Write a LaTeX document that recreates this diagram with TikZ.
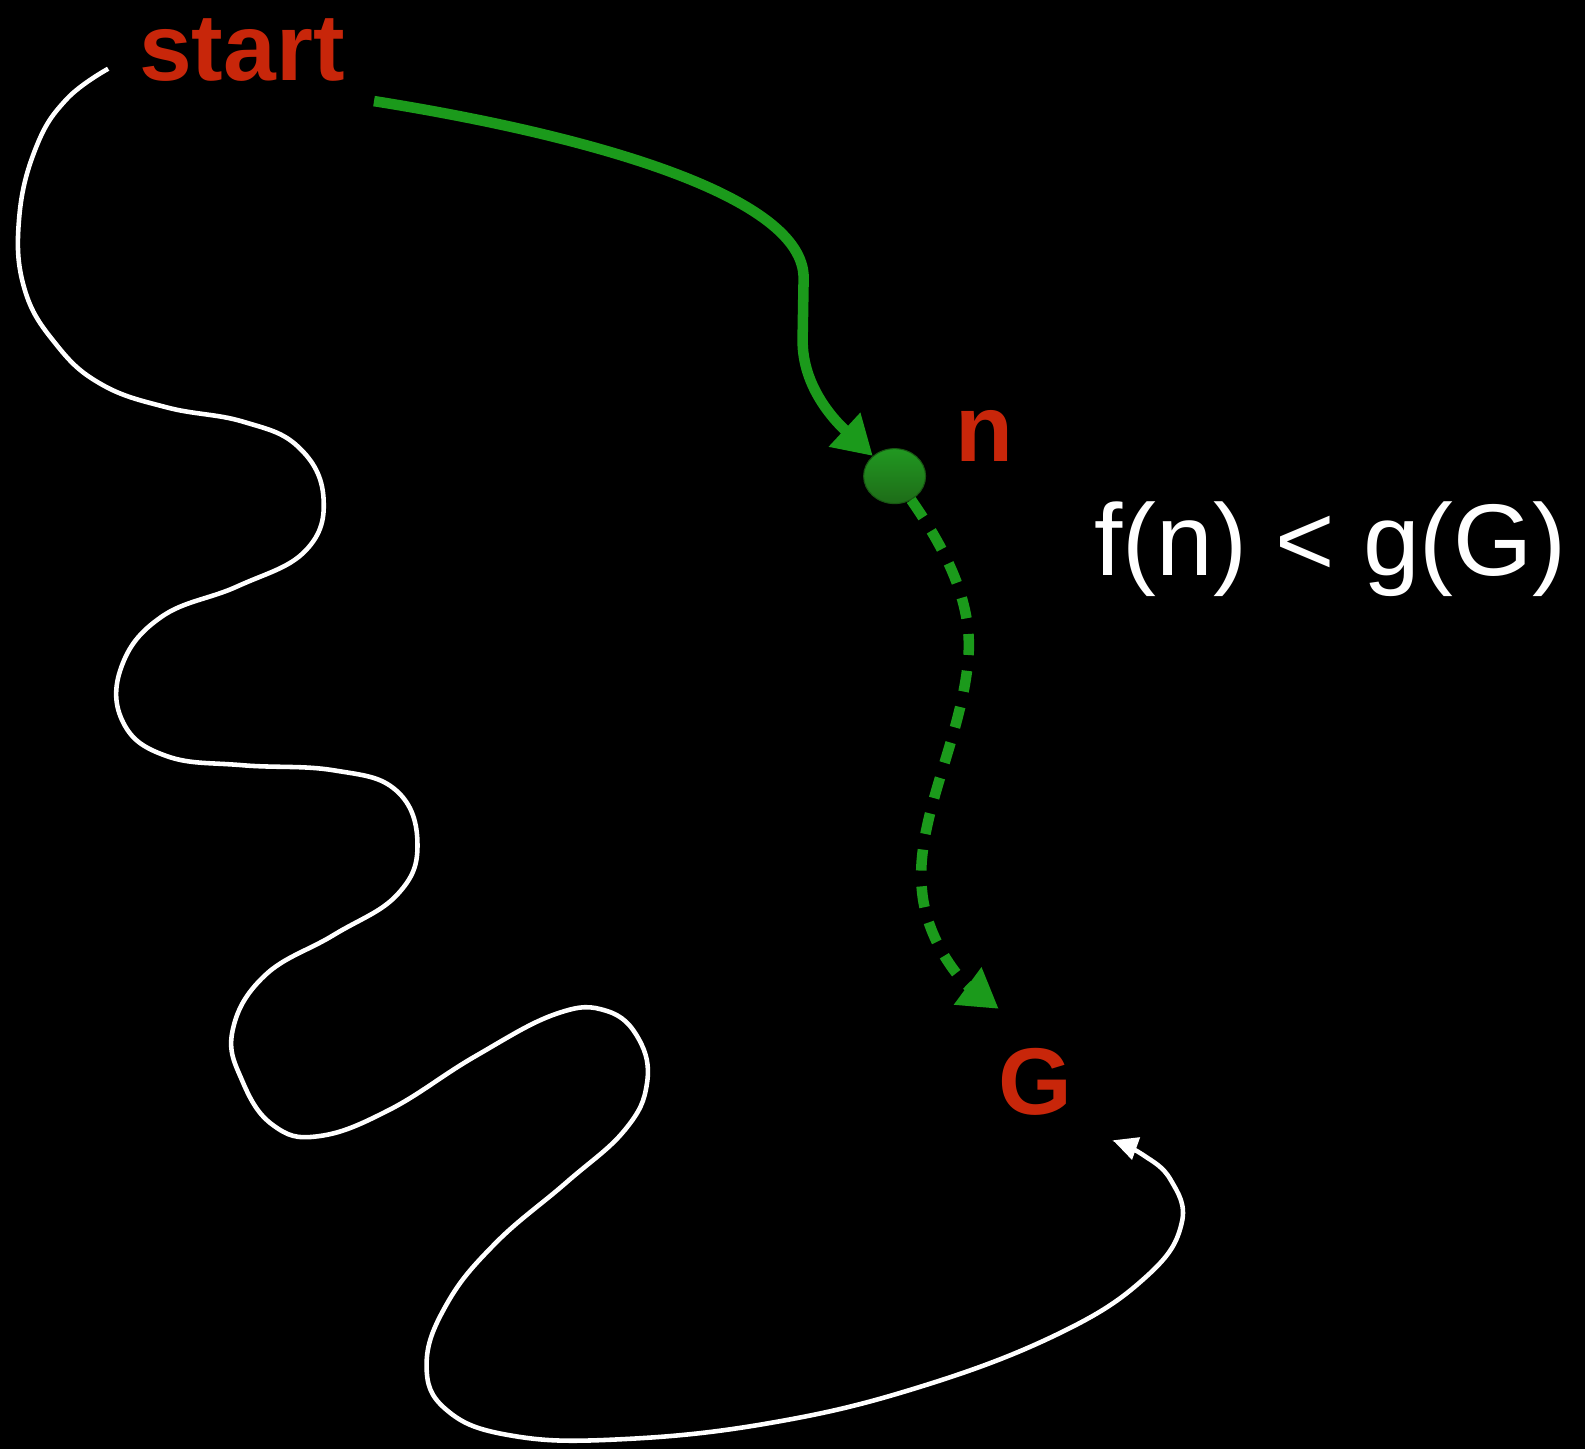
\documentclass[tikz,border=0pt]{standalone}
\usepackage{fontspec}
\setmainfont{Liberation Sans}
\usetikzlibrary{arrows.meta,shapes.geometric}
\definecolor{lblred}{RGB}{200,38,10}
\definecolor{pathgreen}{RGB}{27,154,27}
\definecolor{dottop}{RGB}{33,152,33}
\definecolor{dotbot}{RGB}{30,108,24}
\tikzset{
  lbl/.style={text=lblred, font=\fontsize{27}{32}\selectfont\bfseries, inner sep=0pt, anchor=base west},
  greenpath/.style={draw=pathgreen, line width=3pt, -{Triangle[length=11pt,width=12.5pt]}},
  whitepath/.style={draw=white, line width=1.3pt, -{Triangle[length=7pt,width=6.5pt]}},
}
\begin{document}
\begin{tikzpicture}[x=0.01011cm, y=-0.01011cm]
			\fill[black] (0,0) rectangle (1568,1433);
			\useasboundingbox (0,0) rectangle (1568,1433);
			\node[lbl] (start) at (137,80) {start};
			\node[lbl] (n) at (945,457) {n};
			\node[lbl] (G) at (987,1103) {G};
			\node[text=white, font=\fontsize{29}{34}\selectfont, inner sep=0pt, anchor=base west] (cond) at (1082,569) {f(n) < g(G)};
			\node[ellipse, minimum width=0.62cm, minimum height=0.55cm, inner sep=0pt, draw=dotbot!80!black, line width=0.3pt, top color=dottop, bottom color=dotbot] (dot) at (885,471) {};
			\coordinate (gs) at (370,100);
			\coordinate (gtip) at (988,998);
			\coordinate (ws) at (107,68);
			\coordinate (wtip) at (1101,1128);
			% path found so far
			\draw[greenpath] (gs) .. controls (590,135) and (795,195) .. (795,275) -- (794,335) .. controls (793,385) and (830,420) .. (dot);
			% estimate to the goal
			\draw[greenpath, dash pattern=on 6pt off 4.5pt] (dot) .. controls (940,550) and (962,600) .. (958,650) .. controls (952,730) and (905,810) .. (912,880) .. controls (916,930) and (950,970) .. (gtip);
			% the long way round
			\draw[whitepath] plot[smooth, tension=0.7] coordinates {(ws) (66,98) (36,145) (19,215) (24,285) (55,340) (100,380) (165,403) (240,417) (295,442) (320,492) (302,545) (235,580) (160,610) (120,660) (122,715) (165,748) (240,757) (330,762) (392,782) (413,835) (393,885) (330,925) (262,965) (230,1020) (240,1070) (270,1113) (315,1124) (385,1098) (470,1045) (550,1003) (600,1000) (632,1028) (640,1072) (618,1118) (560,1170) (490,1230) (442,1290) (422,1350) (442,1395) (505,1420) (610,1424) (760,1408) (910,1372) (1050,1318) (1135,1262) (1169,1210) (1158,1167) (1130,1142) (wtip)};
		\end{tikzpicture}
\end{document}
